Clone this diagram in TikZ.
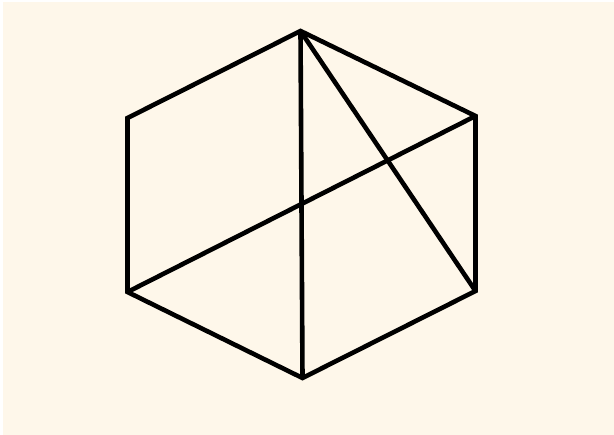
\documentclass[tikz,border=0pt]{standalone}
\definecolor{cream}{HTML}{FEF7EA}
\begin{document}
\begin{tikzpicture}[x=1pt,y=-1pt,edge/.style={line width=4.6pt,line join=miter,black}]
\fill[white] (0,0) rectangle (614,435);
\fill[cream] (3,2) rectangle (614,435);
\useasboundingbox (0,0) rectangle (614,435);
\coordinate (T) at (300.5,31);
\coordinate (UR) at (475.5,116);
\coordinate (LR) at (475.5,291);
\coordinate (B) at (302.5,378);
\coordinate (LL) at (127.5,292);
\coordinate (UL) at (127.5,118);
\draw[edge] (T) -- (UR) -- (LR) -- (B) -- (LL) -- (UL) -- cycle;
\draw[edge] (T) -- (B);
\draw[edge] (UR) -- (LL);
\draw[edge] (T) -- (LR);
\end{tikzpicture}
\end{document}
